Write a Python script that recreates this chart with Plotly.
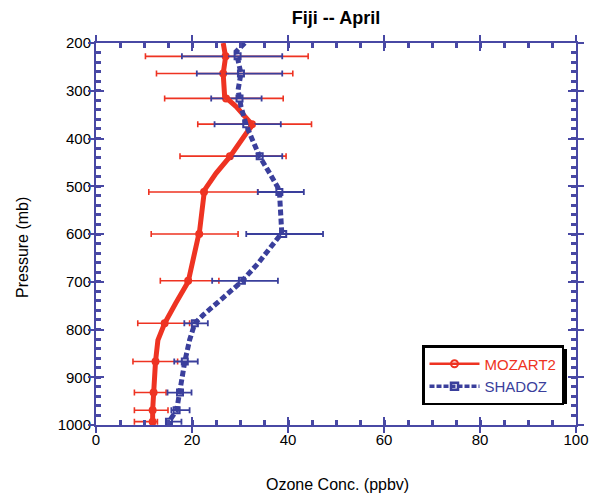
import plotly.graph_objects as go

# ---- data ----
moz_p = [200, 229, 264, 312, 333, 372, 389, 438, 473, 508, 592, 700, 745, 787, 822, 867, 969, 1000]
moz_v = [26.5, 27.0, 26.5, 26.8, 29.2, 32.6, 31.3, 27.9, 25.0, 22.6, 21.6, 19.2, 16.6, 14.3, 12.9, 12.4, 11.8, 11.8]

sha_p = [200, 218, 264, 298, 333, 372, 403, 438, 473, 508, 598, 627, 661, 700, 745, 770, 787, 822, 867, 934, 969, 993, 1000]
sha_v = [31.0, 29.2, 30.2, 29.6, 30.2, 31.3, 32.6, 34.1, 36.2, 38.2, 38.7, 36.5, 33.8, 30.3, 25.0, 22.3, 20.6, 19.5, 18.5, 17.5, 16.8, 15.2, 15.0]

levels = [228, 264, 316, 370, 437, 512, 600, 698, 787, 867, 932, 969, 993]
moz_mean = [27.0, 26.5, 27.1, 32.5, 27.9, 22.5, 21.5, 19.2, 14.3, 12.4, 12.0, 11.8, 11.8]
moz_lo = [10.3, 12.6, 14.3, 21.2, 17.5, 11.0, 11.5, 13.4, 8.7, 7.7, 8.0, 8.0, 8.0]
moz_hi = [44.2, 41.0, 39.0, 44.9, 39.6, 33.7, 29.6, 25.6, 19.5, 17.0, 14.6, 15.0, 12.8]

sha_mean = [29.5, 30.2, 29.9, 31.3, 34.1, 38.2, 39.0, 30.4, 20.6, 18.5, 17.5, 16.8, 15.2]
sha_lo = [17.9, 21.0, 24.0, 24.7, 28.2, 33.7, 31.3, 24.2, 18.4, 16.3, 14.9, 15.7, 14.6]
sha_hi = [38.8, 38.8, 34.5, 38.5, 38.8, 43.3, 47.3, 37.9, 23.3, 21.2, 19.9, 19.5, 17.8]

x_ticks = [0, 20, 40, 60, 80, 100]
y_ticks = [200, 300, 400, 500, 600, 700, 800, 900, 1000]

RED = "#ee3322"
BLUE = "#3a3f9c"
AX = "#4848a4"
FONT = "Liberation Sans, Arial, sans-serif"

fig = go.Figure()

# error bars + markers
fig.add_trace(go.Scatter(
    x=moz_mean, y=levels, mode="markers", showlegend=False,
    marker=dict(symbol="circle-open", size=6, color=RED, line=dict(width=2, color=RED)),
    error_x=dict(type="data", symmetric=False,
                 array=[h - m for h, m in zip(moz_hi, moz_mean)],
                 arrayminus=[m - l for l, m in zip(moz_lo, moz_mean)],
                 color=RED, thickness=1.6, width=3)))
fig.add_trace(go.Scatter(
    x=sha_mean, y=levels, mode="markers", showlegend=False,
    marker=dict(symbol="square-open", size=6, color=BLUE, line=dict(width=2, color=BLUE)),
    error_x=dict(type="data", symmetric=False,
                 array=[h - m for h, m in zip(sha_hi, sha_mean)],
                 arrayminus=[m - l for l, m in zip(sha_lo, sha_mean)],
                 color=BLUE, thickness=1.8, width=3)))

# profiles
fig.add_trace(go.Scatter(x=moz_v, y=moz_p, mode="lines", showlegend=False,
                         line=dict(color=RED, width=5)))
fig.add_trace(go.Scatter(x=sha_v, y=sha_p, mode="lines", showlegend=False,
                         line=dict(color=BLUE, width=5, dash="6px,3px")))

# legend entries
fig.add_trace(go.Scatter(x=[None], y=[None], mode="lines+markers",
                         name="<span style='color:%s'>MOZART2</span>" % RED,
                         line=dict(color=RED, width=2.5),
                         marker=dict(symbol="circle-open", size=7, color=RED, line=dict(width=2))))
fig.add_trace(go.Scatter(x=[None], y=[None], mode="lines+markers",
                         name="<span style='color:%s'>SHADOZ</span>" % BLUE,
                         line=dict(color=BLUE, width=3.5, dash="5px,2px"),
                         marker=dict(symbol="square-open", size=7, color=BLUE, line=dict(width=2.5))))

# dummy trace for overlay axes (outer half of major ticks)
fig.add_trace(go.Scatter(x=[None], y=[None], xaxis="x2", yaxis="y2", showlegend=False, hoverinfo="skip"))

common = dict(showline=True, linecolor=AX, linewidth=2, mirror="allticks",
              showgrid=False, zeroline=False, tickcolor=AX, tickwidth=2,
              tickfont=dict(family=FONT, size=15, color="black"))

fig.update_layout(
    width=604, height=496,
    margin=dict(l=96, r=28, t=43, b=71),
    paper_bgcolor="white", plot_bgcolor="white",
    font=dict(family=FONT, color="black"),
    title=dict(text="<b>Fiji -- April</b>", x=0.5, xref="paper", xanchor="center",
               y=1 - 18 / 496, yref="container", yanchor="middle",
               font=dict(family=FONT, size=18, color="black")),
    xaxis=dict(range=[0, 100], tickvals=x_ticks, ticks="inside", ticklen=8,
               minor=dict(ticks="inside", dtick=5, tick0=0, ticklen=5, tickwidth=2.5, tickcolor=AX),
               **common),
    yaxis=dict(range=[1000, 200], tickvals=y_ticks, ticks="inside", ticklen=8,
               minor=dict(ticks="inside", dtick=20, tick0=200, ticklen=5, tickwidth=2.5, tickcolor=AX),
               **common),
    xaxis2=dict(range=[0, 100], overlaying="x", anchor="y2", tickvals=x_ticks, ticks="outside",
                ticklen=7, tickwidth=2, tickcolor=AX, showticklabels=False, mirror="allticks",
                showline=False, showgrid=False, zeroline=False, side="bottom"),
    yaxis2=dict(range=[1000, 200], overlaying="y", anchor="x2", tickvals=y_ticks, ticks="outside",
                ticklen=7, tickwidth=2, tickcolor=AX, showticklabels=False, mirror="allticks",
                showline=False, showgrid=False, zeroline=False, side="left"),
    legend=dict(x=(422 - 96) / 480, y=(425 - 345) / 382, xanchor="left", yanchor="top",
                bgcolor="white", bordercolor="black", borderwidth=2.5,
                font=dict(family=FONT, size=15), itemwidth=50, tracegroupgap=0),
    showlegend=True,
    annotations=[
        dict(text="Pressure (mb)", textangle=-90, x=(22 - 96) / 480, y=(425 - 248) / 382,
             xref="paper", yref="paper", xanchor="center", yanchor="middle", showarrow=False,
             font=dict(family=FONT, size=16, color="black")),
        dict(text="Ozone Conc. (ppbv)", x=(337 - 96) / 480, y=(425 - 484) / 382,
             xref="paper", yref="paper", xanchor="center", yanchor="middle", showarrow=False,
             font=dict(family=FONT, size=16, color="black")),
    ],
    shapes=[
        dict(type="rect", xref="paper", yref="paper",
             x0=(426 - 96) / 480, x1=(567 - 96) / 480,
             y0=(425 - 404) / 382, y1=(425 - 349) / 382,
             fillcolor="black", line=dict(width=0), layer="above"),
    ],
)

fig.write_html("out.html")
